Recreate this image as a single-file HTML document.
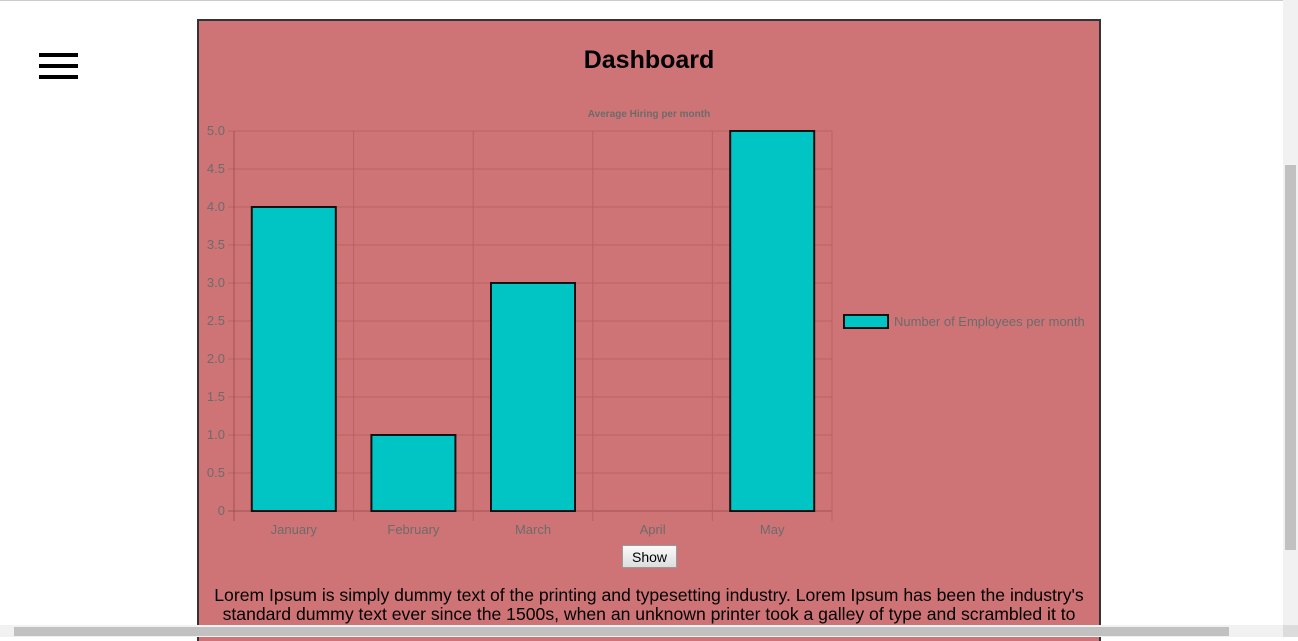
<!DOCTYPE html>
<html><head><meta charset="utf-8"><style>
body{margin:0;width:1298px;height:637px;overflow:hidden;background:#fff;font-family:"Liberation Sans",sans-serif;position:relative}
#topline{position:absolute;left:0;top:0;width:1283px;height:1px;background:#ccc}
#menu{position:absolute;left:39px;top:53px;width:39px}
#menu div{height:4px;background:#000;margin-bottom:7px}
#card{position:absolute;left:197px;top:19px;width:900px;height:620px;background:#cf7476;border:2px solid #333;border-bottom:none;overflow:hidden}
h1{position:absolute;top:25px;left:0;width:100%;text-align:center;margin:0;font-size:25px;font-weight:bold;font-family:"Liberation Sans",sans-serif}
#lorem{position:absolute;left:0;top:565px;width:900px;height:42px;overflow:hidden;text-align:center;font-size:17.6px;line-height:19px;color:#000;font-family:"Liberation Sans",sans-serif;white-space:nowrap}
#btn{position:absolute;left:423px;top:524px;width:55px;height:23px;border:1px solid #999;background:linear-gradient(#fafafa,#ddd);font-family:"Liberation Sans",sans-serif;font-size:14px;padding:0}
#vs{position:absolute;left:1283px;top:0;width:15px;height:625px;background:#f1f1f1;z-index:5}
#vt{position:absolute;left:1285px;top:165px;width:11px;height:385px;background:#c1c1c1;z-index:6}
#hs{position:absolute;left:0;top:625px;width:1283px;height:12px;background:#f1f1f1;z-index:5}
#ht{position:absolute;left:14px;top:627px;width:1215px;height:9px;background:#c1c1c1;z-index:6}
#corner{position:absolute;left:1283px;top:625px;width:15px;height:12px;background:#dcdcdc;z-index:5}
</style></head><body>
<div id="topline"></div>
<div id="menu"><div></div><div></div><div></div></div>
<div id="card">
<h1>Dashboard</h1>
<svg id="chart" width="900" height="520" style="position:absolute;left:0;top:0"></svg>
<button id="btn">Show</button>
<div id="lorem">Lorem Ipsum is simply dummy text of the printing and typesetting industry. Lorem Ipsum has been the industry's<br>standard dummy text ever since the 1500s, when an unknown printer took a galley of type and scrambled it to<br>make a type specimen book.</div>
</div>
<div id="vs"></div>
<div id="vt"></div>
<div id="hs"></div>
<div id="ht"></div>
<div id="corner"></div>
<script>
const categories=["January","February","March","April","May"];
const values=[4,1,3,0,5];
const yTicks=["0","0.5","1.0","1.5","2.0","2.5","3.0","3.5","4.0","4.5","5.0"];
const yMax=5;
const svg=document.getElementById('chart');
const NS='http://www.w3.org/2000/svg';
const L=35,R=633,T=110,B=490;
const bw=(R-L)/categories.length;
const y=v=>B-(v/yMax)*(B-T);
function mk(t,a){const e=document.createElementNS(NS,t);for(const k in a)e.setAttribute(k,a[k]);svg.appendChild(e);return e;}
let t=mk('text',{x:450,y:96,'text-anchor':'middle','font-size':10,'font-weight':'bold',fill:'#6b6b6b','font-family':'Liberation Sans'});t.textContent='Average Hiring per month';


yTicks.forEach((lab,i)=>{const v=i*0.5;const yy=y(v);
 let g=mk('line',{x1:L-6,x2:R,y1:yy,y2:yy,stroke:i==0?'#a05050':'#b86262','stroke-width':1});
 
 
 let tx=mk('text',{x:L-9,y:yy+4,'text-anchor':'end','font-size':13,fill:'#6b6b6b','font-family':'Liberation Sans'});tx.textContent=lab;
 
 
});
for(let i=0;i<=categories.length;i++){const xx=L+i*bw;
 let g=mk('line',{x1:xx,x2:xx,y1:T,y2:B+10,stroke:i==0?'#a05050':'#b86262','stroke-width':1});
 
 
}
categories.forEach((c,i)=>{const cx=L+(i+0.5)*bw;
 if(values[i]>0){let r=mk('rect',{x:cx-42,y:y(values[i]),width:84,height:B-y(values[i]),fill:'#00c5c4',stroke:'#111','stroke-width':2});
 
 }
 let tx=mk('text',{x:cx,y:B+23,'text-anchor':'middle','font-size':13,fill:'#6b6b6b','font-family':'Liberation Sans'});tx.textContent=c;
 
 
});
let lb=mk('rect',{x:645,y:294,width:44,height:13,fill:'#00c5c4',stroke:'#111','stroke-width':2});


let lt=mk('text',{x:695,y:305,'font-size':13,fill:'#6b6b6b','font-family':'Liberation Sans'});lt.textContent='Number of Employees per month';


</script>
</body></html>
